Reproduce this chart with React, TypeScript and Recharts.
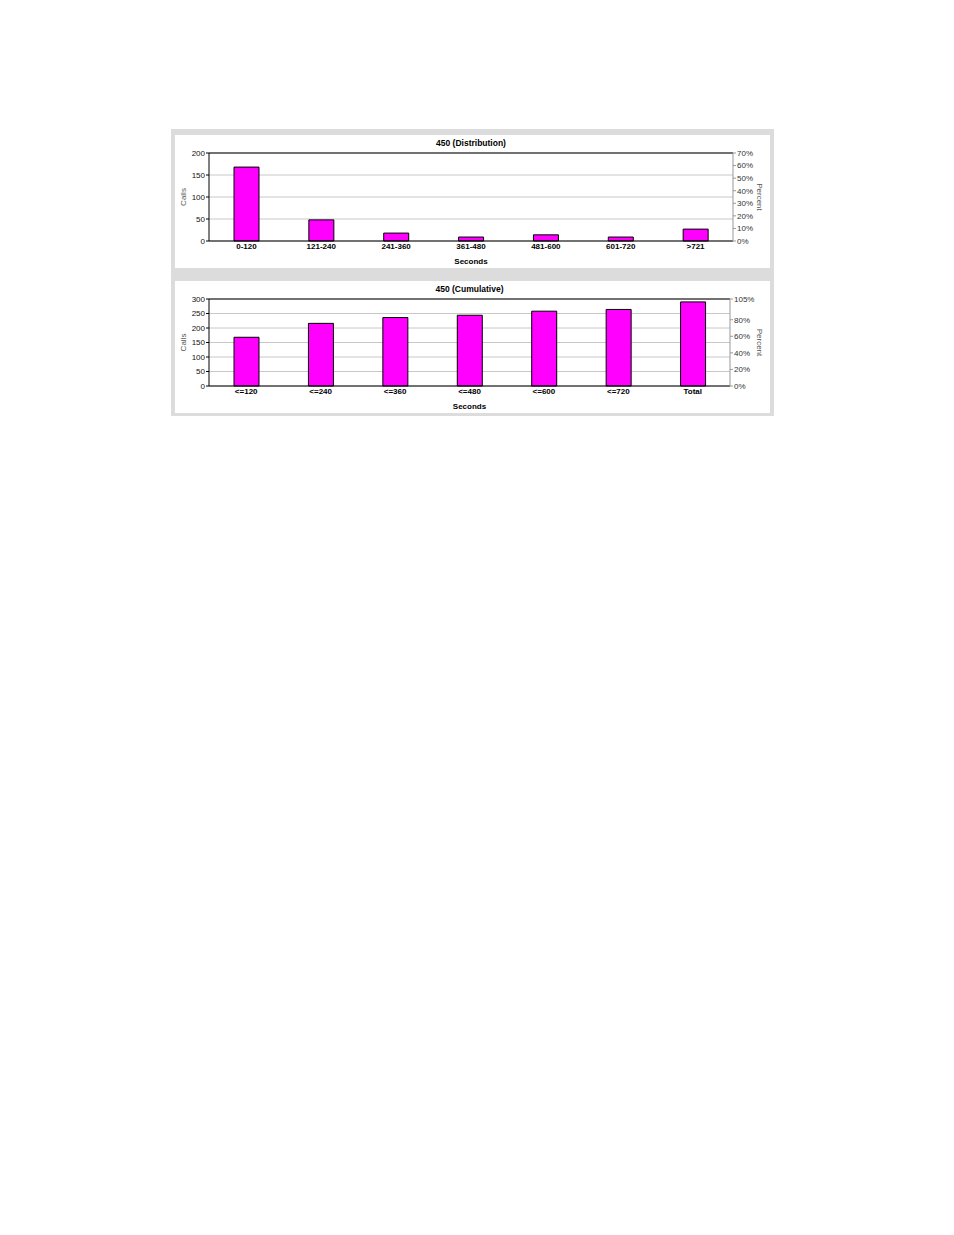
import React from 'react';
import { BarChart, Bar, Line, XAxis, YAxis, CartesianGrid, ReferenceLine } from 'recharts';

// Call durations for queue 450
const distCategories = ['0-120', '121-240', '241-360', '361-480', '481-600', '601-720', '>721'];
const distCalls = [168, 48, 18, 9, 14, 9, 27];
const distCallTicks = [0, 50, 100, 150, 200];
const distPercentTicks = [0, 10, 20, 30, 40, 50, 60, 70];

const cumCategories = ['<=120', '<=240', '<=360', '<=480', '<=600', '<=720', 'Total'];
const cumCalls = [168, 216, 236, 244, 258, 264, 290];
const cumCallTicks = [0, 50, 100, 150, 200, 250, 300];
const cumPercentTicks = [0, 20, 40, 60, 80, 105];

const FONT = '"Liberation Sans", Arial, sans-serif';
const tickStyle = { fontSize: 8, fill: '#111', fontFamily: FONT };

interface PanelProps {
  title: string;
  categories: string[];
  calls: number[];
  callTicks: number[];
  percentTicks: number[];
  height: number;
  rightWidth: number;
  top: number;
}

const Panel: React.FC<PanelProps> = ({
  title, categories, calls, callTicks, percentTicks, height, rightWidth, top,
}) => {
  const data = categories.map((name, i) => ({ name, calls: calls[i] }));
  const maxCalls = callTicks[callTicks.length - 1];
  const maxPct = percentTicks[percentTicks.length - 1];
  const plotLeft = 34;
  const plotRight = 595 - rightWidth;
  return (
    <div style={{ position: 'absolute', left: 175, top, width: 595, height, background: '#fff' }}>
      <div
        style={{
          position: 'absolute', top: 3, left: plotLeft, width: plotRight - plotLeft,
          textAlign: 'center', fontFamily: FONT, fontSize: 8.5, fontWeight: 'bold', color: '#000',
        }}
      >
        {title}
      </div>
      <BarChart width={595} height={height} data={data} margin={{ top: 18, right: 0, left: 0, bottom: 0 }}>
        <CartesianGrid yAxisId="left" vertical={false} stroke="#c8c8c8" />
        <XAxis
          dataKey="name"
          height={27}
          tickLine={false}
          tickSize={0}
          tickMargin={2}
          axisLine={{ stroke: '#000' }}
          tick={{ ...tickStyle, fill: '#000', fontWeight: 'bold' }}
          interval={0}
          label={{ value: 'Seconds', position: 'insideBottom', offset: 4, style: { ...tickStyle, fill: '#000', fontWeight: 'bold' } }}
        />
        <YAxis
          yAxisId="left"
          width={34}
          domain={[0, maxCalls]}
          ticks={callTicks}
          interval={0}
          tickSize={3}
          tickMargin={1}
          axisLine={{ stroke: '#000' }}
          tickLine={{ stroke: '#000' }}
          tick={tickStyle}
          label={{ value: 'Calls', angle: -90, position: 'insideLeft', offset: 8, style: { ...tickStyle, fill: '#555', textAnchor: 'middle' } }}
        />
        <YAxis
          yAxisId="right"
          orientation="right"
          width={rightWidth}
          domain={[0, maxPct]}
          allowDataOverflow
          ticks={percentTicks}
          interval={0}
          tickSize={3}
          tickMargin={1}
          axisLine={{ stroke: '#999' }}
          tickLine={{ stroke: '#999' }}
          tick={{ ...tickStyle, fill: '#333' }}
          tickFormatter={(v: number) => `${v}%`}
          label={{ value: 'Percent', angle: 90, position: 'insideRight', offset: 10, style: { ...tickStyle, fill: '#555', textAnchor: 'middle' } }}
        />
        <ReferenceLine yAxisId="left" y={maxCalls} stroke="#000" />
        <Bar
          yAxisId="left"
          dataKey="calls"
          fill="#ff00ff"
          stroke="#000"
          strokeWidth={1}
          barSize={25}
          isAnimationActive={false}
        />
        {/* invisible series so the percent axis gets drawn */}
        <Line
          yAxisId="right"
          dataKey="calls"
          stroke="none"
          dot={false}
          activeDot={false}
          legendType="none"
          isAnimationActive={false}
        />
      </BarChart>
    </div>
  );
};

const App: React.FC = () => {
  return (
    <div style={{ position: 'absolute', left: 0, top: 0, width: 954, height: 1235, background: '#fff' }}>
      <div style={{ position: 'absolute', left: 171, top: 129, width: 603, height: 287, background: '#dcdcdc' }} />
      <Panel
        title="450 (Distribution)"
        categories={distCategories}
        calls={distCalls}
        callTicks={distCallTicks}
        percentTicks={distPercentTicks}
        height={133}
        rightWidth={37}
        top={135}
      />
      <Panel
        title="450 (Cumulative)"
        categories={cumCategories}
        calls={cumCalls}
        callTicks={cumCallTicks}
        percentTicks={cumPercentTicks}
        height={132}
        rightWidth={40}
        top={281}
      />
    </div>
  );
};

export default App;
